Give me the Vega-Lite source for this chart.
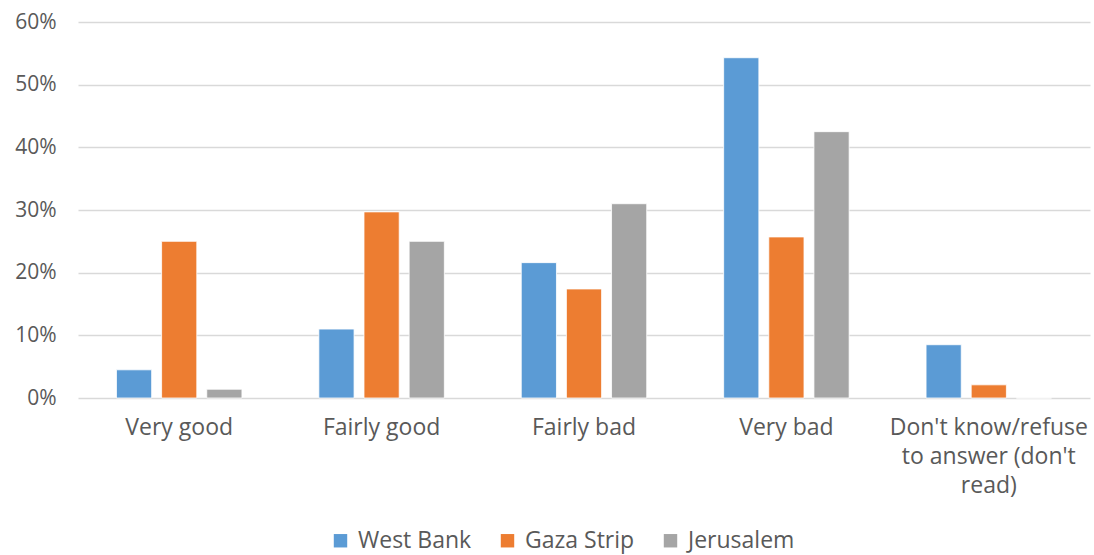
{
  "$schema": "https://vega.github.io/schema/vega-lite/v6.json",
  "autosize": {"type": "none"},
  "width": 1012,
  "height": 376,
  "padding": {"left": 78, "top": 22, "right": 4, "bottom": 157},
  "background": "white",
  "config": {
    "font": "Open Sans",
    "view": {"stroke": null},
    "axis": {"labelFont": "Open Sans", "labelColor": "#595959"}
  },
  "data": {
    "values": [
      {"category": "Very good", "region": "West Bank", "value": 0.045},
      {"category": "Very good", "region": "Gaza Strip", "value": 0.25},
      {"category": "Very good", "region": "Jerusalem", "value": 0.014},
      {"category": "Fairly good", "region": "West Bank", "value": 0.11},
      {"category": "Fairly good", "region": "Gaza Strip", "value": 0.297},
      {"category": "Fairly good", "region": "Jerusalem", "value": 0.25},
      {"category": "Fairly bad", "region": "West Bank", "value": 0.216},
      {"category": "Fairly bad", "region": "Gaza Strip", "value": 0.174},
      {"category": "Fairly bad", "region": "Jerusalem", "value": 0.31},
      {"category": "Very bad", "region": "West Bank", "value": 0.543},
      {"category": "Very bad", "region": "Gaza Strip", "value": 0.257},
      {"category": "Very bad", "region": "Jerusalem", "value": 0.425},
      {"category": "Don't know/refuse to answer (don't read)", "region": "West Bank", "value": 0.085},
      {"category": "Don't know/refuse to answer (don't read)", "region": "Gaza Strip", "value": 0.021},
      {"category": "Don't know/refuse to answer (don't read)", "region": "Jerusalem", "value": 0}
    ]
  },
  "mark": {"type": "bar", "stroke": "white", "strokeWidth": 0.8},
  "encoding": {
    "x": {
      "field": "category",
      "type": "nominal",
      "sort": null,
      "scale": {"paddingInner": 0.38, "paddingOuter": 0.19},
      "axis": {
        "title": null,
        "labelAngle": 0,
        "domain": false,
        "ticks": false,
        "labelFontSize": 23,
        "labelPadding": 18,
        "labelLineHeight": 29,
        "labelLimit": 300,
        "labelExpr": "datum.label == \"Don't know/refuse to answer (don't read)\" ? [\"Don't know/refuse\", \"to answer (don't\", \"read)\"] : datum.label"
      }
    },
    "xOffset": {
      "field": "region",
      "type": "nominal",
      "sort": ["West Bank", "Gaza Strip", "Jerusalem"],
      "scale": {"paddingInner": 0.22}
    },
    "y": {
      "field": "value",
      "type": "quantitative",
      "scale": {"domain": [0, 0.6]},
      "axis": {
        "title": null,
        "format": ".0%",
        "values": [0, 0.1, 0.2, 0.3, 0.4, 0.5, 0.6],
        "domain": false,
        "ticks": false,
        "labelFontSize": 21,
        "labelPadding": 22,
        "gridColor": "#d9d9d9",
        "gridWidth": 1.5
      }
    },
    "color": {
      "field": "region",
      "type": "nominal",
      "sort": ["West Bank", "Gaza Strip", "Jerusalem"],
      "scale": {"domain": ["West Bank", "Gaza Strip", "Jerusalem"], "range": ["#5b9bd5", "#ed7d31", "#a5a5a5"]},
      "legend": {
        "title": null,
        "orient": "none",
        "legendX": 251,
        "legendY": 507,
        "direction": "horizontal",
        "symbolType": "square",
        "symbolSize": 180,
        "symbolStrokeWidth": 0,
        "labelFont": "Open Sans",
        "labelFontSize": 23,
        "labelColor": "#595959",
        "columnPadding": 24,
        "labelOffset": 6
      }
    }
  }
}
